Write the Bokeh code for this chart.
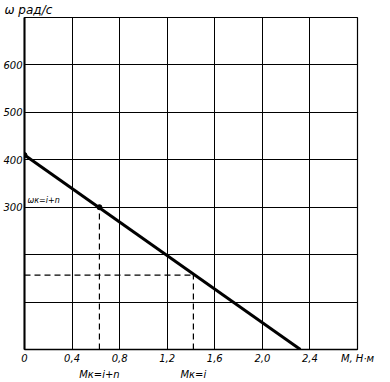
from bokeh.plotting import figure
from bokeh.models import FixedTicker, Range1d, LinearAxis, Label
from bokeh.embed import file_html
from bokeh.resources import INLINE

# ---- data ----
x_ticks = [0, 0.4, 0.8, 1.2, 1.6, 2.0, 2.4, 2.8]
x_labels = ["0", "0,4", "0,8", "1,2", "1,6", "2,0", "2,4", "М, Н·м"]
y_ticks = [0, 100, 200, 300, 400, 500, 600, 700]
y_labels = ["", "", "", "300", "400", "500", "600", ""]
y_title = "ω рад/с"

M_line = [0.0, 2.32]          # torque, N·m
w_line = [410, 0]             # angular speed, rad/s

M_op1 = 0.63                  # Mк=i+n
w_op1 = 300                   # ωк=i+n
M_op2 = 1.42                  # Mк=i
w_op2 = 157                   # ωк=i
op_ticks = [M_op1, M_op2]
op_labels = ["Mк=i+n", "Mк=i"]
w_op1_label = "ωк=i+n"

FONT = "DejaVu Sans"

p = figure(width=390, height=382, output_backend="svg", toolbar_location=None,
           x_range=Range1d(0, 2.8), y_range=Range1d(0, 700),
           min_border_left=22, min_border_right=33, min_border_top=14, min_border_bottom=32)
p.background_fill_color = "white"
p.border_fill_color = "white"
p.outline_line_color = "black"
p.outline_line_width = 1.2

p.title.text = y_title
p.title.align = "left"
p.title.offset = -20
p.title.standoff = 1
p.title.text_font = FONT
p.title.text_font_style = "italic"
p.title.text_font_size = "12px"
p.title.text_color = "black"

p.xaxis.ticker = FixedTicker(ticks=x_ticks)
p.xaxis.major_label_overrides = {t: l for t, l in zip(x_ticks, x_labels)}
p.yaxis.ticker = FixedTicker(ticks=y_ticks)
p.yaxis.major_label_overrides = {t: l for t, l in zip(y_ticks, y_labels)}

ax2 = LinearAxis(ticker=FixedTicker(ticks=op_ticks),
                 major_label_overrides={t: l for t, l in zip(op_ticks, op_labels)})
p.add_layout(ax2, "below")
ax2.axis_line_color = None
ax2.major_label_standoff = 2

for ax in (p.xaxis[0], p.yaxis[0], ax2):
    ax.major_tick_in = 0
    ax.major_tick_out = 0
    ax.minor_tick_in = 0
    ax.minor_tick_out = 0
    ax.major_label_text_font = FONT
    ax.major_label_text_font_style = "italic"
    ax.major_label_text_font_size = "10px"
    ax.major_label_text_color = "black"
p.xaxis[0].axis_line_color = "black"
p.yaxis[0].axis_line_color = "black"
p.xaxis[0].major_label_standoff = 3
p.yaxis[0].major_label_standoff = 2
p.yaxis[0].axis_line_width = 2
p.xaxis[0].axis_line_width = 1.5

p.xgrid.grid_line_color = "black"
p.ygrid.grid_line_color = "black"
p.xgrid.grid_line_width = 1
p.ygrid.grid_line_width = 1

# dashed construction lines
p.line([M_op1, M_op1], [0, w_op1], line_color="black", line_width=1.2, line_dash="6 4")
p.line([0, M_op2], [w_op2, w_op2], line_color="black", line_width=1.2, line_dash="6 4")
p.line([M_op2, M_op2], [0, w_op2], line_color="black", line_width=1.2, line_dash="6 4")

# characteristic line
p.line(M_line, w_line, line_color="black", line_width=3)
p.scatter([M_line[0], M_op1], [w_line[0], w_op1], size=5, color="black")

p.add_layout(Label(x=0, y=w_op1, x_offset=3, y_offset=2, text=w_op1_label,
                   text_font_size="8px", text_font=FONT, text_font_style="italic",
                   text_color="black", text_baseline="bottom"))

open("out.html", "w").write(file_html(p, INLINE))
